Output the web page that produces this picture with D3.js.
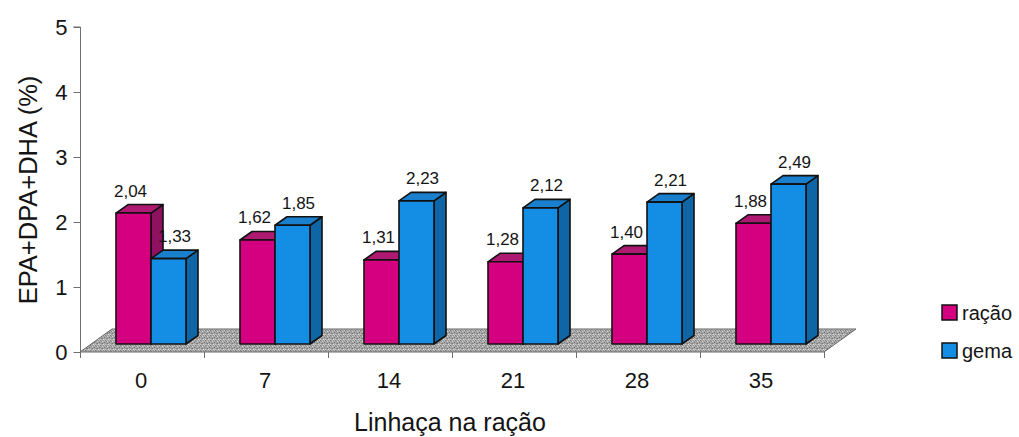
<!DOCTYPE html>
<html>
<head>
<meta charset="utf-8">
<script src="https://cdn.jsdelivr.net/npm/d3@7/dist/d3.min.js"></script>
<style>
  html, body { margin: 0; padding: 0; background: #fff; }
  svg { display: block; font-family: Arial, "Liberation Sans", sans-serif; }
</style>
</head>
<body>
<svg id="chart" width="1019" height="437"></svg>
<script>
// EPA+DPA+DHA content by linseed level in the feed
const categories = ["0", "7", "14", "21", "28", "35"];
const seriesNames = ["ração", "gema"];
const racao = [2.04, 1.62, 1.31, 1.28, 1.40, 1.88];
const gema = [1.33, 1.85, 2.23, 2.12, 2.21, 2.49];
const yTicks = [0, 1, 2, 3, 4, 5];
const yTitle = "EPA+DPA+DHA (%)";
const xTitle = "Linhaça na ração";

const seriesValues = [racao, gema];
const palette = {
  "ração": { front: "#d4007f", top: "#ae1a72", side: "#8f1260" },
  "gema":  { front: "#148ee4", top: "#1a7fcc", side: "#0f66a6" }
};

const svg = d3.select("#chart");
const textColor = "#141414";

// Scales: the axis sits on the front edge of the floor; the bars stand a little behind it.
const y = d3.scaleLinear().domain([0, 5]).range([352, 27]);
const yBar = d3.scaleLinear().domain([0, 5]).range([344, 344 - 5 * 64.2]);
const x0 = d3.scaleBand().domain(categories).range([80, 824]);
const x1 = d3.scaleBand().domain(seriesNames).range([36, 106]);

// Depth offsets (oblique projection)
const floorDx = 32, floorDy = -23;
const barDx = 12, barDy = -8.5;

// Stippled texture for the floor
const defs = svg.append("defs");
const pat = defs.append("pattern")
  .attr("id", "stipple").attr("width", 5).attr("height", 5)
  .attr("patternUnits", "userSpaceOnUse");
pat.append("rect").attr("width", 5).attr("height", 5).attr("fill", "#a8a8a8");
[[0,0,"#7a7a7a"],[2,1,"#d4d4d4"],[4,2,"#6e6e6e"],[1,3,"#8c8c8c"],[3,4,"#dedede"],[3,0,"#959595"],[0,4,"#cacaca"],[2,3,"#767676"],[4,0,"#c2c2c2"],[1,1,"#909090"]]
  .forEach(([px, py, c]) => pat.append("rect").attr("x", px).attr("y", py)
    .attr("width", 1).attr("height", 1).attr("fill", c));

// Floor
const fx0 = x0.range()[0], fx1 = x0.range()[1], fy = y(0);
svg.append("polygon")
  .attr("points", [
    [fx0, fy], [fx0 + floorDx, fy + floorDy], [fx1 + floorDx, fy + floorDy], [fx1, fy]
  ].map(p => p.join(",")).join(" "))
  .attr("fill", "url(#stipple)")
  .attr("stroke", "#666").attr("stroke-width", 1);

// Y axis
const yAxis = d3.axisLeft(y).tickValues(yTicks).tickSize(7).tickPadding(6)
  .tickFormat(d3.format("d"));
const gy = svg.append("g").attr("transform", "translate(80.5,0)").call(yAxis);
gy.select(".domain").attr("stroke", "#707070").attr("d", `M-7,${y(5)}H0V${y(0)}`);
gy.selectAll(".tick line").attr("stroke", "#707070");
gy.selectAll(".tick text").attr("fill", textColor).attr("font-size", 22)
  .attr("font-family", "Arial, 'Liberation Sans', sans-serif").attr("dy", "0.36em");

// X axis: ticks at category boundaries, labels at category centres
const boundaries = categories.map(c => x0(c)).concat([x0.range()[1]]);
svg.append("g").selectAll("line").data(boundaries).join("line")
  .attr("x1", d => d + 0.5).attr("x2", d => d + 0.5)
  .attr("y1", fy).attr("y2", fy + 6)
  .attr("stroke", "#707070").attr("stroke-width", 1);
svg.append("g").selectAll("text").data(categories).join("text")
  .attr("x", d => x0(d) + x0.bandwidth() / 2 - 1)
  .attr("y", 388)
  .attr("text-anchor", "middle")
  .attr("font-size", 22).attr("fill", textColor)
  .text(d => d);

// Bars
const barW = x1.bandwidth();
const bars = [];
categories.forEach((c, i) => {
  seriesNames.forEach((s, j) => {
    bars.push({ cat: c, series: s, value: seriesValues[j][i] });
  });
});

const gBars = svg.append("g")
  .attr("stroke", "#111").attr("stroke-width", 1.6).attr("stroke-linejoin", "round");
bars.forEach(b => {
  const x = x0(b.cat) + x1(b.series);
  const yt = yBar(b.value), yb = yBar(0);
  const col = palette[b.series];
  const g = gBars.append("g");
  g.append("polygon")
    .attr("points", [[x + barW, yt], [x + barW + barDx, yt + barDy], [x + barW + barDx, yb + barDy], [x + barW, yb]]
      .map(p => p.join(",")).join(" "))
    .attr("fill", col.side);
  g.append("polygon")
    .attr("points", [[x, yt], [x + barDx, yt + barDy], [x + barW + barDx, yt + barDy], [x + barW, yt]]
      .map(p => p.join(",")).join(" "))
    .attr("fill", col.top);
  g.append("rect")
    .attr("x", x).attr("y", yt).attr("width", barW).attr("height", yb - yt)
    .attr("fill", col.front);
});

// Value labels
const labelShift = { "ração": -3, "gema": 6 };
svg.append("g").selectAll("text").data(bars).join("text")
  .attr("x", d => x0(d.cat) + x1(d.series) + barW / 2 + labelShift[d.series])
  .attr("y", d => yBar(d.value) + barDy - 8)
  .attr("text-anchor", "middle")
  .attr("font-size", 17).attr("fill", textColor)
  .text(d => d.value.toFixed(2).replace(".", ","));

// Axis titles
svg.append("text")
  .attr("transform", "translate(37,190) rotate(-90)")
  .attr("text-anchor", "middle")
  .attr("font-size", 25.5).attr("fill", textColor)
  .text(yTitle);
svg.append("text")
  .attr("x", 450).attr("y", 431)
  .attr("text-anchor", "middle")
  .attr("font-size", 25).attr("fill", textColor)
  .text(xTitle);

// Legend
const legend = svg.append("g").selectAll("g").data(seriesNames).join("g")
  .attr("transform", (d, i) => `translate(942,${305 + i * 38})`);
legend.append("rect")
  .attr("width", 15).attr("height", 15)
  .attr("fill", d => palette[d].front)
  .attr("stroke", "#111").attr("stroke-width", 1.5);
legend.append("text")
  .attr("x", 20).attr("y", 15)
  .attr("font-size", 20).attr("fill", textColor)
  .text(d => d);
</script>
</body>
</html>
